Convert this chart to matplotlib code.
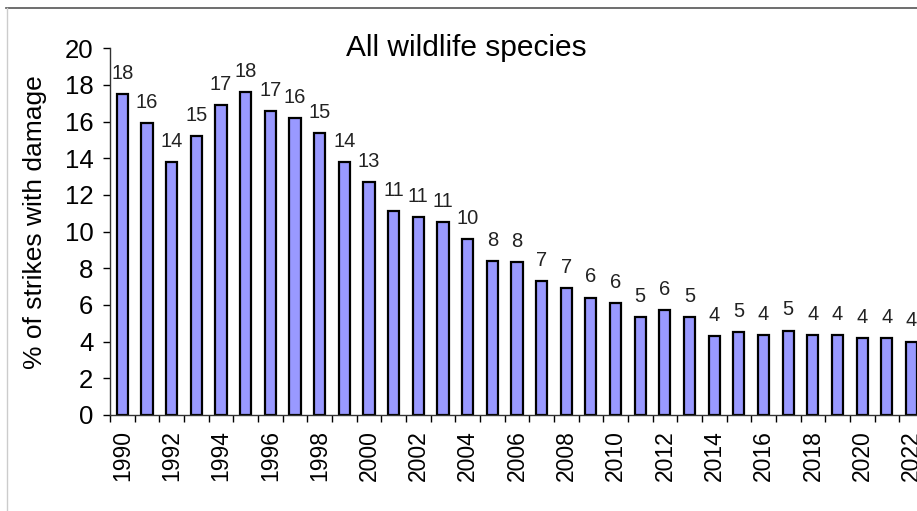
import matplotlib.pyplot as plt
from matplotlib.lines import Line2D

plt.rcParams["font.family"] = ["Liberation Sans", "DejaVu Sans"]

# data
years = list(range(1990, 2023))
pct_damage = [17.5, 15.9, 13.8, 15.2, 16.9, 17.6, 16.6, 16.2, 15.4, 13.8,
              12.7, 11.1, 10.8, 10.5, 9.6, 8.4, 8.35, 7.3, 6.9, 6.4,
              6.1, 5.35, 5.7, 5.35, 4.3, 4.5, 4.35, 4.6, 4.35, 4.35,
              4.2, 4.2, 4.0]
bar_labels = ["18", "16", "14", "15", "17", "18", "17", "16", "15", "14",
              "13", "11", "11", "11", "10", "8", "8", "7", "7", "6",
              "6", "5", "6", "5", "4", "5", "4", "5", "4", "4",
              "4", "4", "4"]
year_ticks = [str(y) for y in years if y % 2 == 0]

fig = plt.figure(figsize=(9.17, 5.11), dpi=100)
ax = fig.add_axes([0.12, 0.188, 0.8875, 0.7175])

x = list(range(len(years)))
ax.bar(x, pct_damage, width=0.45, color="#9999FF", edgecolor="black", linewidth=1.6, zorder=2)

for xi, v, lab in zip(x, pct_damage, bar_labels):
    ax.annotate(lab, (xi, v), xytext=(0, 8), textcoords="offset points",
                ha="center", va="bottom", fontsize=14.5, color="#222222")

ax.set_xlim(-0.5, len(years) - 0.5)
ax.set_ylim(0, 20)
ax.set_yticks(range(0, 21, 2))
ax.tick_params(axis="y", direction="out", length=5, width=1, pad=7, labelsize=18.5)

# year labels under bar centres, tick marks on category boundaries
ax.set_xticks([i for i, y in enumerate(years) if y % 2 == 0])
ax.set_xticklabels(year_ticks, rotation=90)
ax.tick_params(axis="x", which="major", length=0, pad=11, labelsize=16.5)
ax.set_xticks([i - 0.5 for i in range(len(years) + 1)], minor=True)
ax.tick_params(axis="x", which="minor", direction="out", length=5, width=1)

for s in ["top", "right"]:
    ax.spines[s].set_visible(False)
ax.spines["left"].set_linewidth(1)
ax.spines["bottom"].set_linewidth(1)
ax.spines["left"].set_color("#333333")
ax.spines["bottom"].set_color("#333333")

ax.set_ylabel("% of strikes with damage", fontsize=19)
ax.yaxis.set_label_coords(-0.078, 0.525)

fig.text(0.509, 0.906, "All wildlife species", ha="center", va="center", fontsize=21.5)

# slide frame lines
fig.add_artist(Line2D([0.007, 1.0], [0.984, 0.984], color="#555555", linewidth=1.2))
fig.add_artist(Line2D([0.008, 0.008], [0.0, 0.984], color="#cccccc", linewidth=1.0))

fig.savefig("out.png", dpi=100)
